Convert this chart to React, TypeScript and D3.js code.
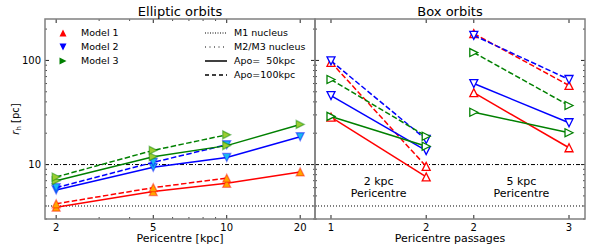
import React from "react";
import * as d3 from "d3";

// left panel: pericentre distance [kpc]
const periLeft = [2, 5, 10, 20];
const m1Apo50 = [3.9, 5.5, 6.6, 8.5];
const m1Apo100 = [4.2, 6.0, 7.4];
const m2Apo50 = [5.7, 9.4, 11.7, 18.5];
const m2Apo100 = [6.0, 10.5, 15.5];
const m3Apo50 = [7.0, 11.9, 15.2, 24.3];
const m3Apo100 = [7.6, 13.7, 19.3];

// right panel: pericentre passages, two groups
const passPos2 = [1, 2];
const passPos5 = [2.5, 3.5];
const passTickPos = [1, 2, 2.5, 3.5];
const passTickLabels = ["1", "2", "2", "3"];
const b2m1Apo50 = [28.5, 7.6];
const b2m1Apo100 = [96, 9.6];
const b2m2Apo50 = [46, 13.6];
const b2m2Apo100 = [99, 17.4];
const b2m3Apo50 = [29, 15];
const b2m3Apo100 = [65.6, 18.7];
const b5m1Apo50 = [49, 14.5];
const b5m1Apo100 = [181, 57.5];
const b5m2Apo50 = [60, 25.2];
const b5m2Apo100 = [174, 65.6];
const b5m3Apo50 = [31.8, 20.2];
const b5m3Apo100 = [119, 36.9];

const nucleusM1 = 4;
const nucleusM23 = 10;

const modelNames = ["Model 1", "Model 2", "Model 3"];
const styleNames = ["M1 nucleus", "M2/M3 nucleus", "Apo=  50kpc", "Apo=100kpc"];

const font = "DejaVu Sans, sans-serif";
const RED = "#ff0000";
const BLUE = "#0000ff";
const GREEN = "#008000";
const DASH = "5.5,2.4";

const top = 19;
const bottom = 219;
const leftX0 = 45;
const leftX1 = 315;
const rightX1 = 585;

const y = d3.scaleLog().domain([3, 250]).range([bottom, top]);
const xL = d3.scaleLog().domain([1.8, 23]).range([leftX0, leftX1]);
const xR = d3.scaleLinear().domain([0.832, 3.668]).range([leftX1, rightX1]);

function tri(kind: string, r: number) {
  if (kind === "up") return `M0,${-r}L${-r},${r}L${r},${r}Z`;
  if (kind === "down") return `M0,${r}L${-r},${-r}L${r},${-r}Z`;
  return `M${r},0L${-r},${-r}L${-r},${r}Z`;
}

const yMajor = [10, 100];
const yMinor = [3, 4, 5, 6, 7, 8, 9, 20, 30, 40, 50, 60, 70, 80, 90, 200];
const xLMinor = [3, 4, 6, 7, 8, 9];

function Series({ xs, ys, sx, color, dashed, kind, fill, edgeOpacity }: any) {
  const line = d3
    .line<number>()
    .x((_, i) => sx(xs[i]))
    .y((d) => y(d));
  return (
    <g>
      <path d={line(ys) || ""} fill="none" stroke={color} strokeWidth={1.5} strokeDasharray={dashed ? DASH : undefined} />
      {ys.map((v: number, i: number) => (
        <path
          key={i}
          d={tri(kind, 4)}
          transform={`translate(${sx(xs[i])},${y(v)})`}
          fill={fill}
          stroke={color}
          strokeOpacity={edgeOpacity}
          strokeWidth={1.3}
        />
      ))}
    </g>
  );
}

function Frame({ x0, x1, xMajor, xMinor }: any) {
  const tk = "#222";
  return (
    <g>
      {yMajor.map((v) => (
        <g key={"ym" + v}>
          <line x1={x0} x2={x0 + 4} y1={y(v)} y2={y(v)} stroke={tk} />
          <line x1={x1} x2={x1 - 4} y1={y(v)} y2={y(v)} stroke={tk} />
        </g>
      ))}
      {yMinor.map((v) => (
        <g key={"yn" + v}>
          <line x1={x0} x2={x0 + 2} y1={y(v)} y2={y(v)} stroke={tk} strokeWidth={0.8} />
          <line x1={x1} x2={x1 - 2} y1={y(v)} y2={y(v)} stroke={tk} strokeWidth={0.8} />
        </g>
      ))}
      {xMajor.map((px: number, i: number) => (
        <g key={"xm" + i}>
          <line x1={px} x2={px} y1={bottom} y2={bottom - 4} stroke={tk} />
          <line x1={px} x2={px} y1={top} y2={top + 4} stroke={tk} />
        </g>
      ))}
      {xMinor.map((px: number, i: number) => (
        <g key={"xn" + i}>
          <line x1={px} x2={px} y1={bottom} y2={bottom - 2} stroke={tk} strokeWidth={0.8} />
          <line x1={px} x2={px} y1={top} y2={top + 2} stroke={tk} strokeWidth={0.8} />
        </g>
      ))}
      <rect x={x0} y={top} width={x1 - x0} height={bottom - top} fill="none" stroke="#808080" strokeWidth={1.5} />
    </g>
  );
}

export default function App() {
  const lfill = { m1: "#ffa500", m2: "#1ab8f0", m3: "#9acd32" };
  return (
    <svg width={600} height={250} style={{ position: "absolute", left: 0, top: 0, background: "#fff" }} fontFamily={font}>
      {/* nucleus reference lines */}
      <line x1={leftX0} x2={rightX1} y1={y(nucleusM1)} y2={y(nucleusM1)} stroke="#000" strokeWidth={1} strokeDasharray="1,2" />
      <line x1={leftX0} x2={rightX1} y1={y(nucleusM23)} y2={y(nucleusM23)} stroke="#000" strokeWidth={1} strokeDasharray="4,2,1,2" />

      {/* left panel */}
      <Series xs={periLeft} ys={m1Apo50} sx={xL} color={RED} kind="up" fill={lfill.m1} edgeOpacity={0.45} />
      <Series xs={periLeft} ys={m1Apo100} sx={xL} color={RED} dashed kind="up" fill={lfill.m1} edgeOpacity={0.45} />
      <Series xs={periLeft} ys={m2Apo50} sx={xL} color={BLUE} kind="down" fill={lfill.m2} edgeOpacity={0.45} />
      <Series xs={periLeft} ys={m2Apo100} sx={xL} color={BLUE} dashed kind="down" fill={lfill.m2} edgeOpacity={0.45} />
      <Series xs={periLeft} ys={m3Apo50} sx={xL} color={GREEN} kind="right" fill={lfill.m3} edgeOpacity={0.45} />
      <Series xs={periLeft} ys={m3Apo100} sx={xL} color={GREEN} dashed kind="right" fill={lfill.m3} edgeOpacity={0.45} />

      {/* right panel */}
      <Series xs={passPos2} ys={b2m1Apo50} sx={xR} color={RED} kind="up" fill="#fff" edgeOpacity={1} />
      <Series xs={passPos2} ys={b2m1Apo100} sx={xR} color={RED} dashed kind="up" fill="#fff" edgeOpacity={1} />
      <Series xs={passPos2} ys={b2m2Apo50} sx={xR} color={BLUE} kind="down" fill="#fff" edgeOpacity={1} />
      <Series xs={passPos2} ys={b2m2Apo100} sx={xR} color={BLUE} dashed kind="down" fill="#fff" edgeOpacity={1} />
      <Series xs={passPos2} ys={b2m3Apo50} sx={xR} color={GREEN} kind="right" fill="#fff" edgeOpacity={1} />
      <Series xs={passPos2} ys={b2m3Apo100} sx={xR} color={GREEN} dashed kind="right" fill="#fff" edgeOpacity={1} />
      <Series xs={passPos5} ys={b5m1Apo50} sx={xR} color={RED} kind="up" fill="#fff" edgeOpacity={1} />
      <Series xs={passPos5} ys={b5m1Apo100} sx={xR} color={RED} dashed kind="up" fill="#fff" edgeOpacity={1} />
      <Series xs={passPos5} ys={b5m2Apo50} sx={xR} color={BLUE} kind="down" fill="#fff" edgeOpacity={1} />
      <Series xs={passPos5} ys={b5m2Apo100} sx={xR} color={BLUE} dashed kind="down" fill="#fff" edgeOpacity={1} />
      <Series xs={passPos5} ys={b5m3Apo50} sx={xR} color={GREEN} kind="right" fill="#fff" edgeOpacity={1} />
      <Series xs={passPos5} ys={b5m3Apo100} sx={xR} color={GREEN} dashed kind="right" fill="#fff" edgeOpacity={1} />

      <Frame x0={leftX0} x1={leftX1} xMajor={periLeft.map((d) => xL(d))} xMinor={xLMinor.map((d) => xL(d))} />
      <Frame x0={leftX1} x1={rightX1} xMajor={passTickPos.map((d) => xR(d))} xMinor={[]} />

      {/* tick labels */}
      {yMajor.map((v) => (
        <text key={v} x={41} y={y(v)} dy="0.35em" textAnchor="end" fontSize={10}>
          {v}
        </text>
      ))}
      {periLeft.map((d) => (
        <text key={d} x={xL(d)} y={231} textAnchor="middle" fontSize={10}>
          {d}
        </text>
      ))}
      {passTickPos.map((d, i) => (
        <text key={i} x={xR(d)} y={231} textAnchor="middle" fontSize={10}>
          {passTickLabels[i]}
        </text>
      ))}

      {/* axis labels and titles */}
      <text x={(leftX0 + leftX1) / 2} y={242} textAnchor="middle" fontSize={11}>Pericentre [kpc]</text>
      <text x={(leftX1 + rightX1) / 2} y={242} textAnchor="middle" fontSize={11}>Pericentre passages</text>
      <text x={(leftX0 + leftX1) / 2} y={16} textAnchor="middle" fontSize={13}>Elliptic orbits</text>
      <text x={(leftX1 + rightX1) / 2} y={16} textAnchor="middle" fontSize={13}>Box orbits</text>
      <text transform="translate(19,119) rotate(-90)" textAnchor="middle" fontSize={10}>
        <tspan fontStyle="italic">r</tspan>
        <tspan fontSize={7} dy={2}>h</tspan>
        <tspan dy={-2}>{"  [pc]"}</tspan>
      </text>

      {/* annotations */}
      <text x={xR(1.5)} y={185} textAnchor="middle" fontSize={11}>2 kpc</text>
      <text x={xR(1.5)} y={197} textAnchor="middle" fontSize={11}>Pericentre</text>
      <text x={xR(3)} y={185} textAnchor="middle" fontSize={11}>5 kpc</text>
      <text x={xR(3)} y={197} textAnchor="middle" fontSize={11}>Pericentre</text>

      {/* legend: models */}
      {modelNames.map((n, i) => (
        <g key={n} transform={`translate(0,${33 + i * 14})`}>
          <path d={tri(["up", "down", "right"][i], 3.5)} transform="translate(63,0)" fill={[RED, BLUE, GREEN][i]} />
          <text x={81} y={0} dy="0.35em" fontSize={9.5}>{n}</text>
        </g>
      ))}
      {/* legend: line styles */}
      {styleNames.map((n, i) => (
        <g key={n} transform={`translate(0,${33 + i * 14})`}>
          <line
            x1={205}
            x2={227}
            y1={0}
            y2={0}
            stroke="#000"
            strokeWidth={i < 2 ? 1 : 1.5}
            strokeDasharray={["1,1.5", "1,3.5", undefined, "4,3"][i]}
          />
          <text x={234} y={0} dy="0.35em" fontSize={9.5} xmlSpace="preserve" style={{ whiteSpace: "pre" }}>{n}</text>
        </g>
      ))}
    </svg>
  );
}
